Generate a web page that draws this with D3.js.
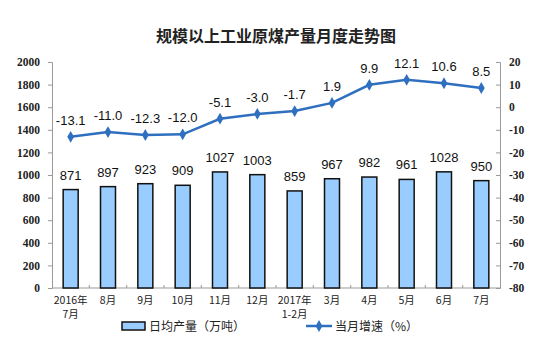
<!DOCTYPE html>
<html>
<head>
<meta charset="utf-8">
<script src="https://cdn.jsdelivr.net/npm/d3@7/dist/d3.min.js"></script>
<style>
  html, body { margin: 0; padding: 0; background: #fff; }
  svg { display: block; }
</style>
</head>
<body>
<svg id="chart" width="540" height="345"></svg>
<script>
// Monthly raw coal output of industrial enterprises above designated size
const months = ["2016年|7月", "8月", "9月", "10月", "11月", "12月", "2017年|1-2月", "3月", "4月", "5月", "6月", "7月"];
const dailyOutput = [871, 897, 923, 909, 1027, 1003, 859, 967, 982, 961, 1028, 950];   // 万吨
const yoyGrowth = [-13.1, -11.0, -12.3, -12.0, -5.1, -3.0, -1.7, 1.9, 9.9, 12.1, 10.6, 8.5]; // %
const leftTicks = [0, 200, 400, 600, 800, 1000, 1200, 1400, 1600, 1800, 2000];
const rightTicks = [-80, -70, -60, -50, -40, -30, -20, -10, 0, 10, 20];

const svg = d3.select("#chart");
const plot = { left: 52, right: 500, top: 62, bottom: 288 };

const x = d3.scaleBand().domain(d3.range(months.length)).range([plot.left, plot.right]);
const yL = d3.scaleLinear().domain([0, 2000]).range([plot.bottom, plot.top]);
const yR = d3.scaleLinear().domain([-80, 20]).range([plot.bottom, plot.top]);

const tickFont = "'Liberation Serif', 'Times New Roman', serif";
const cjkFont = "'Noto Sans CJK SC', sans-serif";
const numFont = "'Liberation Sans', Arial, sans-serif";
const lineColor = "#2f6fc0";

// plain hyphen for negatives
const fmtInt = d => String(d);
const fmt1 = d => d.toFixed(1);

// Title
svg.append("text")
  .attr("x", 276).attr("y", 42)
  .attr("text-anchor", "middle")
  .style("font-family", cjkFont)
  .style("font-size", "16px")
  .style("font-weight", "bold")
  .attr("fill", "#222")
  .text("规模以上工业原煤产量月度走势图");

// Left axis
const leftAxis = svg.append("g")
  .attr("transform", `translate(${plot.left},0)`)
  .call(d3.axisLeft(yL).tickValues(leftTicks).tickSize(4).tickPadding(8).tickFormat(fmtInt));
leftAxis.select(".domain").attr("stroke", "#999");
leftAxis.selectAll(".tick line").attr("stroke", "#999");
leftAxis.selectAll(".tick text")
  .style("font-family", tickFont).style("font-size", "11.5px").style("font-weight", "bold").attr("fill", "#222");

// Right axis
const rightAxis = svg.append("g")
  .attr("transform", `translate(${plot.right},0)`)
  .call(d3.axisRight(yR).tickValues(rightTicks).tickSize(-4).tickPadding(9).tickFormat(fmtInt));
rightAxis.select(".domain").attr("stroke", "#999");
rightAxis.selectAll(".tick line").attr("stroke", "#999");
rightAxis.selectAll(".tick text")
  .style("font-family", tickFont).style("font-size", "11.5px").style("font-weight", "bold").attr("fill", "#222");

// Bottom axis: baseline with separators between categories
svg.append("line")
  .attr("x1", plot.left).attr("x2", plot.right)
  .attr("y1", plot.bottom).attr("y2", plot.bottom)
  .attr("stroke", "#999");
svg.append("g").selectAll("line")
  .data(d3.range(1, months.length))
  .join("line")
  .attr("x1", i => x(i)).attr("x2", i => x(i))
  .attr("y1", plot.bottom).attr("y2", plot.bottom - 3)
  .attr("stroke", "#999");

// Category labels (second line where needed)
const xLabels = svg.append("g");
months.forEach((m, i) => {
  m.split("|").forEach((ln, k) => {
    xLabels.append("text")
      .attr("x", x(i) + x.bandwidth() / 2)
      .attr("y", 304 + k * 14)
      .attr("text-anchor", "middle")
      .style("font-family", cjkFont)
      .style("font-size", "10.5px")
      .attr("fill", "#222")
      .text(ln);
  });
});

// Bars
const barW = 15;
svg.append("g").selectAll("rect")
  .data(dailyOutput)
  .join("rect")
  .attr("x", (d, i) => x(i) + x.bandwidth() / 2 - barW / 2)
  .attr("y", d => yL(d))
  .attr("width", barW)
  .attr("height", d => plot.bottom - yL(d))
  .attr("fill", "#99ccff")
  .attr("stroke", "#111")
  .attr("stroke-width", 1.5);

svg.append("g").selectAll("text")
  .data(dailyOutput)
  .join("text")
  .attr("x", (d, i) => x(i) + x.bandwidth() / 2)
  .attr("y", d => yL(d) - 10)
  .attr("text-anchor", "middle")
  .style("font-family", numFont)
  .style("font-size", "13px")
  .attr("fill", "#111")
  .text(d => d);

// Growth line
const line = d3.line()
  .x((d, i) => x(i) + x.bandwidth() / 2)
  .y(d => yR(d));
svg.append("path")
  .datum(yoyGrowth)
  .attr("d", line)
  .attr("fill", "none")
  .attr("stroke", lineColor)
  .attr("stroke-width", 2.5);

const diamond = d3.symbol().type(d3.symbolDiamond).size(40);
svg.append("g").selectAll("path")
  .data(yoyGrowth)
  .join("path")
  .attr("transform", (d, i) => `translate(${x(i) + x.bandwidth() / 2},${yR(d)})`)
  .attr("d", diamond)
  .attr("fill", lineColor);

svg.append("g").selectAll("text")
  .data(yoyGrowth)
  .join("text")
  .attr("x", (d, i) => x(i) + x.bandwidth() / 2)
  .attr("y", d => yR(d) - 12)
  .attr("text-anchor", "middle")
  .style("font-family", numFont)
  .style("font-size", "13px")
  .attr("fill", "#111")
  .text(fmt1);

// Legend
const legend = svg.append("g").style("font-family", cjkFont).style("font-size", "12px");
legend.append("rect")
  .attr("x", 122).attr("y", 322).attr("width", 23).attr("height", 8)
  .attr("fill", "#99ccff").attr("stroke", "#111").attr("stroke-width", 1.5);
legend.append("text").attr("x", 149).attr("y", 331).attr("fill", "#222").text("日均产量（万吨）");
legend.append("line")
  .attr("x1", 306).attr("x2", 332).attr("y1", 326).attr("y2", 326)
  .attr("stroke", lineColor).attr("stroke-width", 2.5);
legend.append("path")
  .attr("transform", "translate(319,326)")
  .attr("d", diamond)
  .attr("fill", lineColor);
legend.append("text").attr("x", 335).attr("y", 331).attr("fill", "#222").text("当月增速（%）");
</script>
</body>
</html>
